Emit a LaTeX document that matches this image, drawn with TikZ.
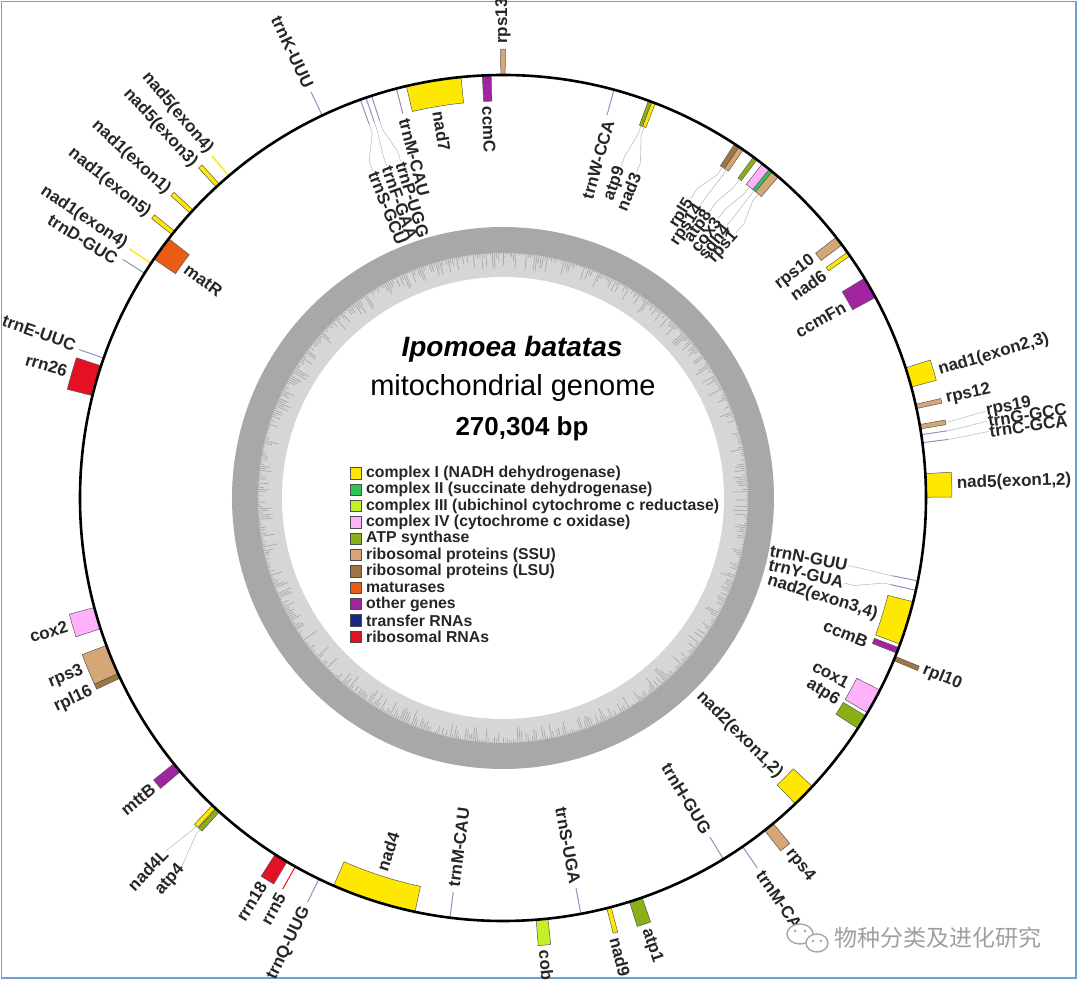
\documentclass[tikz,border=0pt]{standalone}
\usepackage{fontspec}
\setmainfont{Liberation Sans}
\newfontfamily\cjkfont{Noto Sans CJK SC}

\definecolor{cplxI}{RGB}{255,232,0}
\definecolor{cplxII}{RGB}{46,196,90}
\definecolor{cplxIII}{RGB}{196,240,40}
\definecolor{cplxIV}{RGB}{255,178,250}
\definecolor{atpsyn}{RGB}{138,176,22}
\definecolor{ssu}{RGB}{214,166,116}
\definecolor{lsu}{RGB}{158,118,68}
\definecolor{matur}{RGB}{232,92,20}
\definecolor{other}{RGB}{160,36,160}
\definecolor{trna}{RGB}{24,40,130}
\definecolor{rrna}{RGB}{228,16,36}
\definecolor{gcdark}{RGB}{168,168,168}
\definecolor{gclight}{RGB}{214,214,214}
\definecolor{framecol}{RGB}{110,160,215}

% gene boxes outside / inside the genome circle (angles in degrees)
\newcommand{\geneout}[3]{\filldraw[gene, fill=#3] (#1:423) arc[start angle=#1, end angle=#2, radius=423pt] -- (#2:449) arc[start angle=#2, end angle=#1, radius=449pt] -- cycle;}
\newcommand{\genein}[3]{\filldraw[gene, fill=#3] (#1:397) arc[start angle=#1, end angle=#2, radius=397pt] -- (#2:423) arc[start angle=#2, end angle=#1, radius=423pt] -- cycle;}
\newcommand{\trnout}[1]{\draw[trnline] (#1:423) -- (#1:449);}
\newcommand{\trnin}[1]{\draw[trnline] (#1:397) -- (#1:423);}

\begin{document}
\begin{tikzpicture}[x=1pt, y=1pt,
	gene/.style={draw=black!65, line width=0.5pt},
	trnline/.style={trna!50, line width=1pt},
	yline/.style={cplxI, line width=1.3pt},
	leader/.style={black!25, line width=0.6pt},
	lab/.style={font=\bfseries\fontsize{17}{17}\selectfont, inner sep=1pt, text=black!85},
	labRO/.style={lab, anchor=west, rotate=#1},
	labRI/.style={lab, anchor=east, rotate=#1},
	labLO/.style={lab, anchor=east, rotate=#1+180},
	labLI/.style={lab, anchor=west, rotate=#1+180},
	legbox/.style={draw=black!70, line width=0.6pt, minimum size=11.5pt, inner sep=0pt},
	legtext/.style={font=\bfseries\fontsize{15.8}{15.8}\selectfont, inner sep=0pt, anchor=west, text=black!85}
]
\useasboundingbox (-503,-486) rectangle (577,498);
\draw[framecol, line width=1.5pt] (-501.5,496.5) rectangle (573,-480);

% GC content ring
\fill[gcdark] (0,0) circle[radius=271pt];
\fill[gclight] (0,0) circle[radius=245pt];
\pgfmathsetseed{42}
\foreach \a in {0,0.5,...,359.5} {
	\pgfmathsetmacro\d{244-15*rnd^2}
	\draw[gcdark, line width=0.7pt] (\a:246) -- (\a:\d);
}
\fill[white] (0,0) circle[radius=221pt];

\node[font=\bfseries\itshape\fontsize{28}{28}\selectfont, anchor=base] (title) at (9,141) {Ipomoea batatas};
\node[font=\fontsize{29}{29}\selectfont, anchor=base] (subtitle) at (10,102) {mitochondrial genome};
\node[font=\bfseries\fontsize{26}{26}\selectfont, anchor=base] (size) at (19,62) {270,304 bp};

% legend
\foreach \col/\txt [count=\i] in {cplxI/complex I (NADH dehydrogenase), cplxII/complex II (succinate dehydrogenase), cplxIII/complex III (ubichinol cytochrome c reductase), cplxIV/complex IV (cytochrome c oxidase), atpsyn/ATP synthase, ssu/ribosomal proteins (SSU), lsu/ribosomal proteins (LSU), matur/maturases, other/other genes, trna/transfer RNAs, rrna/ribosomal RNAs} {
	\node[legbox, fill=\col] (key\i) at (-147,{24.7-16.34*(\i-1)}) {};
	\node[legtext] (leg\i) at (-137,{24.7-16.34*(\i-1)}) {\txt};
}

% outside features
\geneout{89.7}{90.3}{ssu}
\node[labRO=90] (lRps13) at (90:453) {rps13};
\trnout{115.3}
\node[labLO=115.3] (lTrnK) at (115.3:453) {trnK-UUU};
\draw[yline] (130.4:423) -- (130.4:449);
\node[labLO=130.2] (lNad5e4) at (130.2:453) {nad5(exon4)};
\geneout{132.1}{132.7}{cplxI}
\node[labLO=132.8] (lNad5e3) at (132.8:453) {nad5(exon3)};
\geneout{137.1}{137.7}{cplxI}
\node[labLO=137.5] (lNad1e1) at (137.5:453) {nad1(exon1)};
\geneout{140.9}{141.5}{cplxI}
\node[labLO=141.3] (lNad1e5) at (141.3:453) {nad1(exon5)};
\draw[yline] (146.3:423) -- (146.3:449);
\node[labLO=146.2] (lNad1e4) at (146.2:453) {nad1(exon4)};
\trnout{147.9}
\node[labLO=148.4] (lTrnD) at (148.4:453) {trnD-GUC};
\trnout{160.7}
\node[labLO=160.4] (lTrnE) at (160.4:453) {trnE-UUC};
\geneout{161.8}{166.0}{rrna}
\node[labLO=163.8] (lRrn26) at (163.8:453) {rrn26};
\geneout{195.0}{198.0}{cplxIV}
\node[labLO=196.4] (lCox2) at (196.4:453) {cox2};
\geneout{200.4}{204.5}{ssu}
\node[labLO=202.2] (lRps3) at (202.2:453) {rps3};
\geneout{204.5}{205.2}{lsu}
\node[labLO=205.1] (lRpl16) at (205.1:453) {rpl16};
\geneout{218.9}{220.3}{other}
\node[labLO=219.6] (lMttB) at (219.6:453) {mttB};
\geneout{226.6}{227.2}{cplxI}
\geneout{227.3}{227.9}{atpsyn}
\node[labLO=226.3] (lNad4L) at (226.3:488) {nad4L};
\node[labLO=228.9] (lAtp4) at (228.9:488) {atp4};
\draw[leader] (226.9:449) -- (226.9:455) -- (lNad4L.east);
\draw[leader] (227.6:449) -- (227.6:455) -- (lAtp4.east);
\geneout{237.4}{239.3}{rrna}
\node[labLO=238.1] (lRrn18) at (238.1:453) {rrn18};
\draw[rrna, line width=1pt] (240.6:423) -- (240.6:449);
\node[labLO=240.8] (lRrn5) at (240.8:453) {rrn5};
\trnout{244.2}
\node[labLO=244.3] (lTrnQ) at (244.3:453) {trnQ-UUG};
\geneout{-85.5}{-83.9}{cplxIII}
\node[labRO=-84.7] (lCob) at (-84.7:453) {cob};
\geneout{-75.8}{-75.2}{cplxI}
\node[labRO=-75.7] (lNad9) at (-75.7:453) {nad9};
\geneout{-72.6}{-70.8}{atpsyn}
\node[labRO=-71.6] (lAtp1) at (-71.6:453) {atp1};
\trnout{-55.5}
\node[labRO=-55.5] (lTrnMb) at (-55.5:453) {trnM-CAU};
\geneout{-51.8}{-50.3}{ssu}
\node[labRO=-51.0] (lRps4) at (-51.0:453) {rps4};
\geneout{-22.6}{-22.0}{lsu}
\node[labRO=-22.2] (lRpl10) at (-22.2:453) {rpl10};
\geneout{0.1}{3.3}{cplxI}
\node[labRO=1.8] (lNad5e12) at (1.8:453) {nad5(exon1,2)};
\trnout{7.5}
\trnout{8.6}
\geneout{9.4}{10.0}{ssu}
\node[labRO=7.8] (lTrnC) at (7.8:490) {trnC-GCA};
\node[labRO=9.0] (lTrnG) at (9.0:490) {trnG-GCC};
\node[labRO=10.2] (lRps19) at (10.2:490) {rps19};
\draw[leader] (7.5:449) -- (7.5:453) -- (lTrnC.west);
\draw[leader] (8.6:449) -- (8.6:453) -- (lTrnG.west);
\draw[leader] (9.7:449) -- (9.7:453) -- (lRps19.west);
\geneout{12.2}{12.8}{ssu}
\node[labRO=12.6] (lRps12) at (12.6:453) {rps12};
\geneout{15.2}{17.9}{cplxI}
\node[labRO=16.3] (lNad1e23) at (16.3:453) {nad1(exon2,3)};

% inside features
\genein{91.6}{92.8}{other}
\node[labLI=92.2] (lCcmC) at (92.2:393) {ccmC};
\genein{95.7}{103.2}{cplxI}
\node[labLI=99.5] (lNad7) at (99.5:393) {nad7};
\trnin{104.6}
\node[labLI=104.6] (lTrnMa) at (104.6:393) {trnM-CAU};
\trnin{108.1}
\trnin{108.9}
\trnin{109.7}
\node[labLI=106.9] (lTrnP) at (106.9:352) {trnP-UGG};
\node[labLI=109.3] (lTrnF) at (109.3:352) {trnF-GAA};
\node[labLI=111.7] (lTrnS) at (111.7:352) {trnS-GCU};
\draw[leader] (108.1:397) -- (108.1:388) -- (106.9:362) -- (lTrnP.west);
\draw[leader] (108.9:397) -- (108.9:388) -- (109.3:362) -- (lTrnF.west);
\draw[leader] (109.7:397) -- (109.7:388) -- (111.7:362) -- (lTrnS.west);
\genein{142.2}{145.6}{matur}
\node[labLI=144.0] (lMatR) at (144.0:393) {matR};
\genein{246.4}{258.0}{cplxI}
\node[labLI=252.0] (lNad4) at (252.0:393) {nad4};
\trnin{262.8}
\node[labLI=262.8] (lTrnMc) at (262.8:393) {trnM-CAU};
\trnin{-79.4}
\node[labRI=-79.4] (lTrnSu) at (-79.4:393) {trnS-UGA};
\trnin{-58.6}
\node[labRI=-58.6] (lTrnH) at (-58.6:393) {trnH-GUG};
\genein{-46.3}{-43.0}{cplxI}
\node[labRI=-45.0] (lNad2e12) at (-45.0:393) {nad2(exon1,2)};
\genein{-33.0}{-31.0}{atpsyn}
\node[labRI=-31.3] (lAtp6) at (-31.3:393) {atp6};
\genein{-30.5}{-27.0}{cplxIV}
\node[labRI=-28.3] (lCox1) at (-28.3:393) {cox1};
\genein{-21.5}{-20.7}{other}
\node[labRI=-21.6] (lCcmB) at (-21.6:393) {ccmB};
\genein{-20.2}{-14.2}{cplxI}
\node[labRI=-17.3] (lNad2e34) at (-17.3:393) {nad2(exon3,4)};
\trnin{-12.6}
\trnin{-11.3}
\node[labRI=-14.0] (lTrnY) at (-14.0:352) {trnY-GUA};
\node[labRI=-11.1] (lTrnN) at (-11.1:352) {trnN-GUU};
\draw[leader] (-12.6:397) -- (-12.6:390) -- (-14.0:362) -- (lTrnY.east);
\draw[leader] (-11.3:397) -- (-11.3:390) -- (-11.1:362) -- (lTrnN.east);
\genein{28.3}{31.3}{other}
\node[labRI=29.3] (lCcmFn) at (29.3:393) {ccmFn};
\genein{34.9}{35.5}{cplxI}
\node[labRI=34.9] (lNad6) at (34.9:393) {nad6};
\genein{36.75}{38.05}{ssu}
\node[labRI=37.7] (lRps10) at (37.7:393) {rps10};
\genein{49.4}{50.5}{ssu}
\genein{50.5}{51.0}{cplxII}
\genein{51.0}{52.2}{cplxIV}
\genein{53.1}{53.7}{atpsyn}
\genein{55.4}{56.1}{ssu}
\genein{56.1}{56.8}{lsu}
\node[labRI=57.9] (lRpl5) at (57.9:353) {rpl5};
\node[labRI=56.0] (lRps14) at (56.0:353) {rps14};
\node[labRI=54.2] (lAtp8) at (54.2:353) {atp8};
\node[labRI=52.4] (lCox3) at (52.4:353) {cox3};
\node[labRI=50.6] (lSdh4) at (50.6:353) {sdh4};
\node[labRI=48.7] (lRps1) at (48.7:353) {rps1};
\draw[leader] (56.45:397) -- (56.45:388) -- (57.9:365) -- (lRpl5.east);
\draw[leader] (55.75:397) -- (55.75:388) -- (56.0:365) -- (lRps14.east);
\draw[leader] (53.4:397) -- (53.4:388) -- (54.2:365) -- (lAtp8.east);
\draw[leader] (51.6:397) -- (51.6:388) -- (52.4:365) -- (lCox3.east);
\draw[leader] (50.75:397) -- (50.75:388) -- (50.6:365) -- (lSdh4.east);
\draw[leader] (49.95:397) -- (49.95:388) -- (48.7:365) -- (lRps1.east);
\genein{69.4}{69.9}{atpsyn}
\genein{68.9}{69.4}{cplxI}
\node[labRI=70.4] (lAtp9) at (70.4:352) {atp9};
\node[labRI=67.7] (lNad3) at (67.7:352) {nad3};
\draw[leader] (69.65:397) -- (69.65:388) -- (70.4:362) -- (lAtp9.east);
\draw[leader] (69.15:397) -- (69.15:388) -- (67.7:362) -- (lNad3.east);
\trnin{74.8}
\node[labRI=74.3] (lTrnW) at (74.3:393) {trnW-CCA};

% genome circle
\draw[line width=2.6pt] (0,0) circle[radius=423pt];

% watermark
\draw[gray!70, line width=1.4pt, fill=white] (297,-436) ellipse[x radius=13pt, y radius=10pt];
\fill[gray!70] (292,-433) circle[radius=1.5pt] (302,-433) circle[radius=1.5pt];
\draw[gray!70, line width=1.4pt, fill=white] (314,-445) ellipse[x radius=11pt, y radius=9pt];
\fill[gray!70] (310,-443) circle[radius=1.3pt] (318,-443) circle[radius=1.3pt];
\node[font=\cjkfont\fontsize{23}{23}\selectfont, text=gray!75, anchor=west, inner sep=0pt] (wmark) at (331,-440) {物种分类及进化研究};
\end{tikzpicture}
\end{document}
